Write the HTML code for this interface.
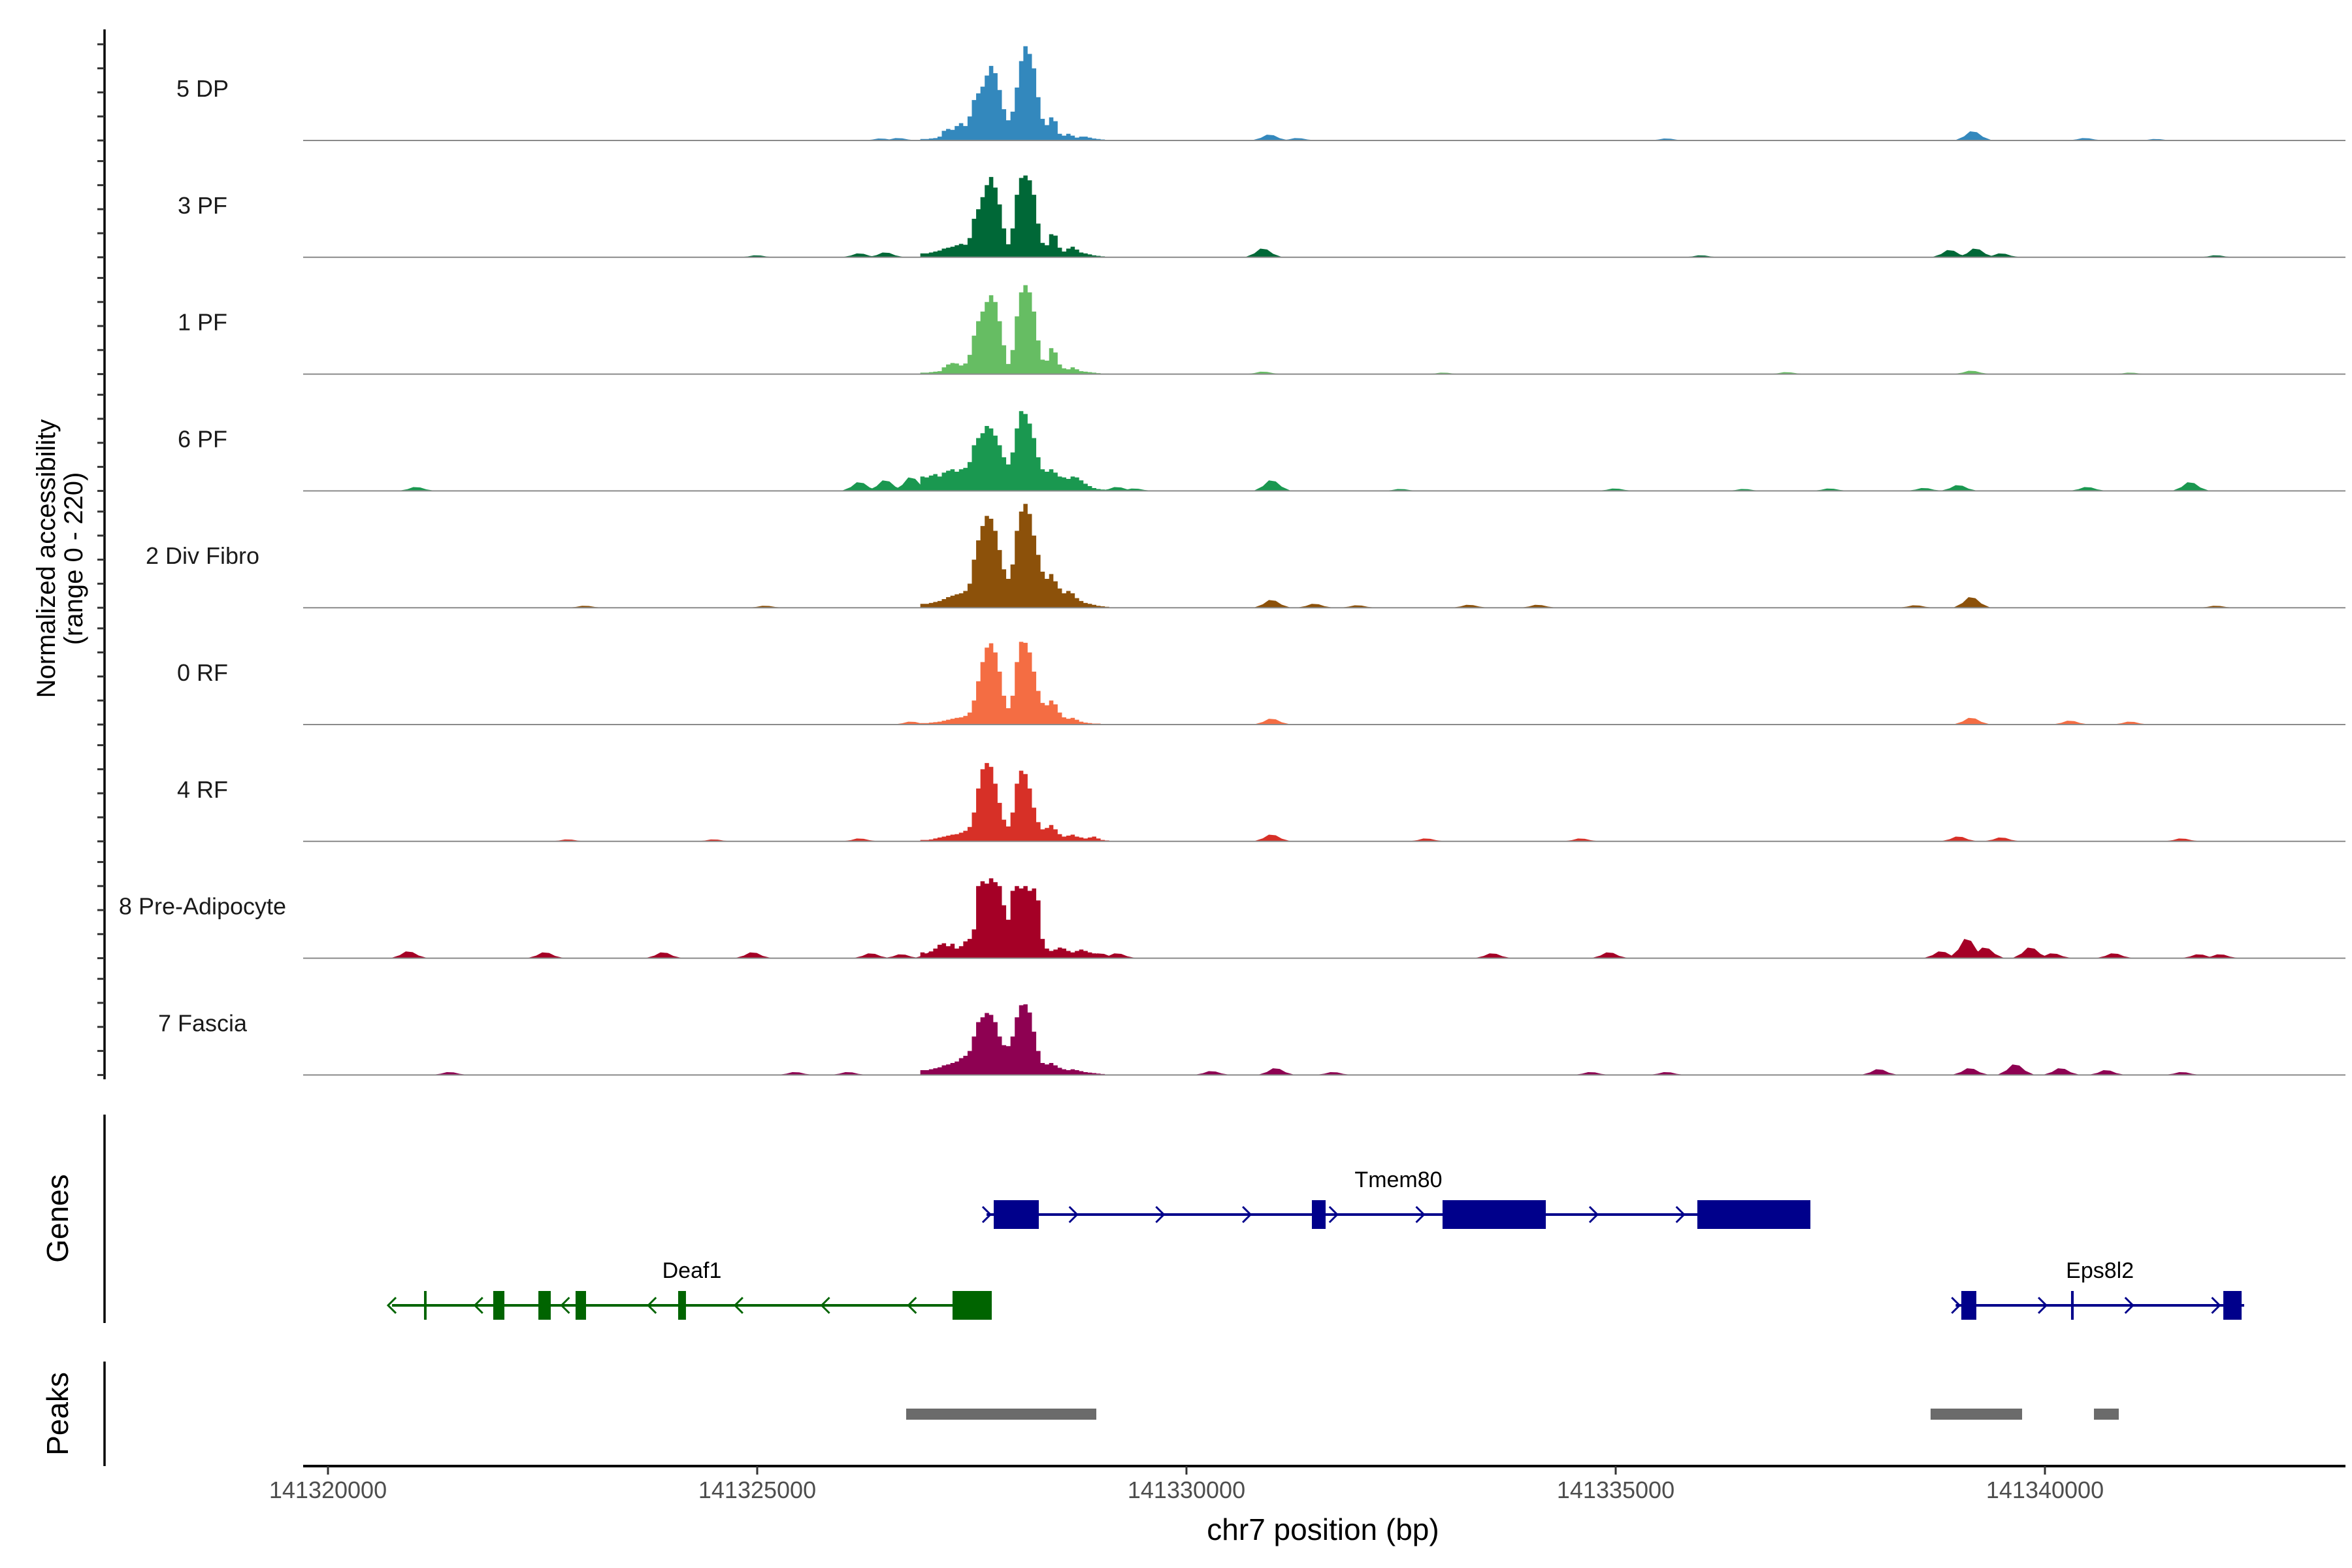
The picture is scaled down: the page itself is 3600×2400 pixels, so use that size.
<!DOCTYPE html>
<html><head><meta charset="utf-8"><style>
html,body{margin:0;padding:0;background:#fff;}
svg{display:block;font-family:"Liberation Sans",Arial,sans-serif;}
</style></head><body>
<svg id="chart" width="3600" height="2400" viewBox="0 0 3600 2400" xmlns="http://www.w3.org/2000/svg">
<rect x="0" y="0" width="3600" height="2400" fill="#ffffff"/>
<text transform="translate(84,855) rotate(-90)" text-anchor="middle" font-size="40" fill="#000">Normalized accessibility</text>
<text transform="translate(126,855) rotate(-90)" text-anchor="middle" font-size="40" fill="#000">(range 0 - 220)</text>
<text transform="translate(104,1865) rotate(-90)" text-anchor="middle" font-size="46" fill="#000">Genes</text>
<text transform="translate(104,2164) rotate(-90)" text-anchor="middle" font-size="46" fill="#000">Peaks</text>
<text x="2025" y="2357" text-anchor="middle" font-size="46" fill="#000">chr7 position (bp)</text>
</svg>
<script>
const binStart = 141326900;
const binSize = 50;
const trackNames = ["5 DP","3 PF","1 PF","6 PF","2 Div Fibro","0 RF","4 RF","8 Pre-Adipocyte","7 Fascia"];
const trackColors = ["#3388BD","#006837","#66BD63","#1A9850","#8C510A","#F46D43","#D73027","#A50026","#8E0152"];
const cov5DP = [3,3,4,5,8,20,24,22,30,36,30,50,84,98,112,135,155,140,105,65,42,60,110,165,196,180,150,90,45,32,48,40,14,10,14,10,6,8,8,6,4,3,2,1];
const cov3PF = [8,8,10,12,14,18,20,22,25,28,26,40,80,100,125,150,167,145,110,60,27,60,130,165,170,160,130,70,30,25,48,45,20,12,18,22,16,10,8,6,4,3,2,1];
const cov1PF = [3,3,4,5,6,14,20,23,22,18,22,40,80,110,130,150,164,150,110,60,21,50,120,170,185,170,130,70,30,28,54,45,20,12,10,14,10,6,5,4,3,2,1,1];
const cov6PF = [30,28,32,35,30,38,42,45,40,45,48,60,95,110,120,135,130,115,95,70,55,80,130,166,160,140,110,70,45,40,45,38,30,28,25,30,28,22,15,10,6,4,3,2];
const cov2DivFibro = [8,8,10,12,14,18,22,25,28,30,35,50,100,140,170,191,185,160,120,80,60,90,160,200,216,195,150,110,75,60,70,55,40,30,35,30,20,14,10,8,6,4,3,2];
const cov0RF = [3,3,4,5,6,8,10,12,14,15,18,25,50,90,130,160,169,150,110,60,34,60,130,172,170,150,110,70,45,40,50,42,25,15,12,14,10,6,4,3,2,2,1,1];
const cov4RF = [3,3,4,6,8,10,12,14,15,18,22,30,60,110,150,163,155,120,80,45,31,60,120,147,140,110,70,40,25,28,34,25,15,10,12,14,10,8,6,8,10,6,3,2];
const cov8PreAdipocyte = [12,10,14,20,28,31,25,30,20,25,35,40,60,150,160,155,166,158,150,110,80,140,150,145,150,140,145,120,40,20,15,18,22,20,15,12,15,18,15,12,10,8,6,4];
const cov7Fascia = [10,10,12,14,16,20,22,25,28,35,40,50,80,110,120,129,125,110,80,62,60,80,120,145,147,130,90,50,25,22,25,20,15,12,10,12,10,8,6,5,4,3,2,1];
const coverage = [cov5DP,cov3PF,cov1PF,cov6PF,cov2DivFibro,cov0RF,cov4RF,cov8PreAdipocyte,cov7Fascia];
// small distal peaks: [offset from 141320000 bp, value]
const bumps5DP = [[10976,12],[11300,5],[6450,4],[6650,5],[15602,4],[19168,19],[20475,5],[21300,3]];
const bumps3PF = [[10900,18],[18900,15],[19200,18],[19500,8],[16000,4],[6200,8],[6500,10],[5000,4],[22000,4]];
const bumps1PF = [[10900,5],[19150,7],[17000,4],[13000,3],[21000,3]];
const bumps6PF = [[1035,8],[11000,22],[9400,5],[12500,4],[15000,5],[18600,6],[19000,12],[20500,8],[21700,18],[17500,5],[16500,4],[6200,18],[6500,22],[6800,28],[9200,8]];
const bumps2DivFibro = [[11000,16],[11500,8],[19150,22],[13300,6],[14100,6],[12000,5],[18500,5],[5100,4],[3000,4],[22000,4]];
const bumps0RF = [[11000,12],[19150,14],[20300,8],[21000,6],[6800,6]];
const bumps4RF = [[11000,14],[4500,4],[12800,6],[14600,6],[19000,10],[19500,8],[21600,6],[2800,4],[6200,6]];
const bumps8PreAdipocyte = [[946,14],[2536,12],[3913,12],[4955,12],[6332,10],[6685,8],[7038,12],[9000,10],[9200,10],[13571,10],[14931,12],[18800,14],[19100,40],[19309,22],[19839,22],[20100,10],[20810,10],[21800,8],[22046,8]];
const bumps7Fascia = [[1424,6],[5450,6],[6067,6],[10300,8],[11047,14],[11716,6],[14719,6],[15600,6],[18073,12],[19133,14],[19662,22],[20192,14],[20722,10],[21605,6]];
const bumps = [bumps5DP,bumps3PF,bumps1PF,bumps6PF,bumps2DivFibro,bumps0RF,bumps4RF,bumps8PreAdipocyte,bumps7Fascia];
const xTickValues = [141320000,141325000,141330000,141335000,141340000];
const xTickLabels = ["141320000","141325000","141330000","141335000","141340000"];
const yTickValues = [0,50,100,150,200];
const peakStarts = [141326735,141338668,141340571];
const peakEnds = [141328950,141339734,141340860];
const geneNames = ["Tmem80","Deaf1","Eps8l2"];
const geneStrands = ["+","-","+"];
const geneStarts = [141327671,141320746,141338960];
const geneEnds = [141337268,141327732,141342321];
const geneExons = [
  [[141327755,141328280],[141331461,141331621],[141332983,141334186],[141335951,141337268]],
  [[141321119,141321149],[141321925,141322055],[141322451,141322595],[141322884,141323006],[141324079,141324170],[141327275,141327732]],
  [[141339026,141339201],[141340304,141340335],[141342078,141342291]]
];
const geneRows = [0,1,1];
const geneColors = ["#00008B","#006400","#00008B"];

const NS = "http://www.w3.org/2000/svg";
const svg = document.getElementById("chart");
const X0 = 502, PXBP = 0.1314, PXV = 0.736;
const trackBase0 = 215, trackStep = 178.8;
const plotL = 464, plotR = 3590;
function xScale(p){ return X0 + (p - 141320000) * PXBP; }
function baseY(t){ return trackBase0 + t * trackStep; }
function yScale(t, v){ return baseY(t) - v * PXV; }
function mk(tag, attrs){ const e = document.createElementNS(NS, tag); for (const k in attrs) e.setAttribute(k, attrs[k]); svg.appendChild(e); return e; }

// left y axis with ticks
let ax = mk("line",{x1:160,y1:45,x2:160,y2:1652,stroke:"#000","stroke-width":3.5});


for (let t=0;t<trackNames.length;t++){
  for (const v of yTickValues){
    const y = yScale(t, v);
    const tk = mk("line",{x1:149,y1:y,x2:160,y2:y,stroke:"#333","stroke-width":3});
    
    
  }
}

// coverage tracks
for (let t=0;t<trackNames.length;t++){
  const col = trackColors[t];
  const arr = coverage[t];
  let d = "M" + xScale(binStart) + "," + baseY(t);
  for (let i=0;i<arr.length;i++){
    const xa = xScale(binStart + i*binSize), xb = xScale(binStart + (i+1)*binSize);
    const y = yScale(t, arr[i]);
    d += " L" + xa + "," + y + " L" + xb + "," + y;
  }
  d += " L" + xScale(binStart + arr.length*binSize) + "," + baseY(t) + " Z";
  const area = mk("path",{d:d,fill:col});
  
  
  for (const b of bumps[t]){
    const p = 141320000 + b[0];
    const bx = [xScale(p-220), xScale(p-110), xScale(p-40), xScale(p+40), xScale(p+110), xScale(p+220)];
    const by = [baseY(t), yScale(t,b[1]*0.45), yScale(t,b[1]), yScale(t,b[1]*0.9), yScale(t,b[1]*0.4), baseY(t)];
    let pd = "M" + bx[0] + "," + by[0];
    for (let k=1;k<6;k++) pd += " L" + bx[k] + "," + by[k];
    pd += " Z";
    const bm = mk("path",{d:pd,fill:col});
    
    
  }
  const bl = mk("line",{x1:plotL,y1:baseY(t),x2:plotR,y2:baseY(t),stroke:"#8a8a8a","stroke-width":2});
  
  
  const lb = mk("text",{x:310,y:baseY(t)-67,"text-anchor":"middle","font-size":36,fill:"#1a1a1a"});
  lb.textContent = trackNames[t];
  
  
}

// genes panel
let ga = mk("line",{x1:160,y1:1706,x2:160,y2:2025,stroke:"#000","stroke-width":3.5});


const rowY = [1859, 1998];
for (let g=0; g<geneNames.length; g++){
  const y = rowY[geneRows[g]], col = geneColors[g];
  const x1 = xScale(geneStarts[g]), x2 = xScale(geneEnds[g]);
  const ln = mk("line",{x1:x1,y1:y,x2:x2,y2:y,stroke:col,"stroke-width":4});
  
  
  const ex = geneExons[g];
  for (const e of ex){
    const a = xScale(e[0]), b = xScale(e[1]);
    const r = mk("rect",{x:a,y:y-22,width:Math.max(3,b-a),height:44,fill:col});
    
    
  }
  // strand chevrons
  const step = 1010 * PXBP;
  for (let cx = x1; cx <= x2 + 1; cx += step){
    let inside = false;
    for (const e of ex){ if (cx >= xScale(e[0]) - 2 && cx <= xScale(e[1]) + 2) inside = true; }
    if (inside && cx !== x1) continue;
    const dx = geneStrands[g] === "+" ? 6 : -6;
    const c = mk("path",{d:"M"+(cx-dx)+","+(y-12)+" L"+(cx+dx)+","+y+" L"+(cx-dx)+","+(y+12),fill:"none",stroke:col,"stroke-width":3});
    
    
  }
  const lab = mk("text",{x:(x1+x2)/2,y:y-42,"text-anchor":"middle","font-size":34,fill:"#000"});
  lab.textContent = geneNames[g];
  
  
}

// peaks panel
let pa = mk("line",{x1:160,y1:2084,x2:160,y2:2244,stroke:"#000","stroke-width":3.5});


for (let i=0;i<peakStarts.length;i++){
  const a = xScale(peakStarts[i]), b = xScale(peakEnds[i]);
  const r = mk("rect",{x:a,y:2156,width:b-a,height:17,fill:"#6b6b6b"});
  
  
}

// x axis
let xa = mk("line",{x1:plotL,y1:2244,x2:plotR,y2:2244,stroke:"#000","stroke-width":4});


for (let i=0;i<xTickValues.length;i++){
  const x = xScale(xTickValues[i]);
  const tk = mk("line",{x1:x,y1:2244,x2:x,y2:2257,stroke:"#333","stroke-width":3});
  
  
  const tl = mk("text",{x:x,y:2293,"text-anchor":"middle","font-size":36,fill:"#4d4d4d"});
  tl.textContent = xTickLabels[i];
  
  
}
</script>
</body></html>
